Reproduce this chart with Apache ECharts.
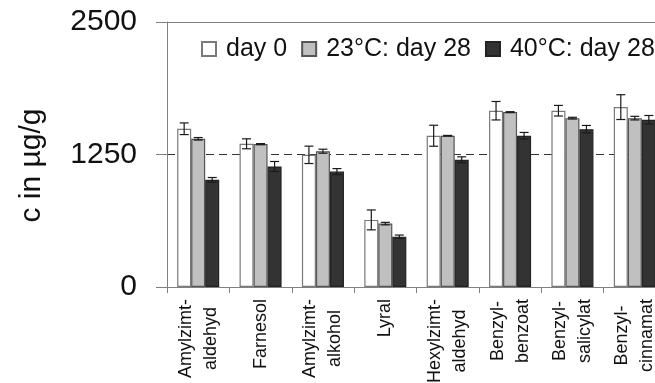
<!DOCTYPE html>
<html>
<head>
<meta charset="utf-8">
<script src="https://cdn.jsdelivr.net/npm/echarts@6/dist/echarts.min.js"></script>
<style>html,body{margin:0;padding:0;background:#fff;}#c{width:655px;height:383px;}</style>
</head>
<body>
<div id="c"></div>
<script>
const categories = ["Amylzimt-\naldehyd","Farnesol","Amylzimt-\nalkohol","Lyral","Hexylzimt-\naldehyd","Benzyl-\nbenzoat","Benzyl-\nsalicylat","Benzyl-\ncinnamat"];
const seriesNames = ["day 0","23°C: day 28","40°C: day 28"];
const day0 = [1493,1351,1247,633,1427,1663,1663,1697];
const err0 = [55,47,82,94,99,87,50,117];
const day28at23 = [1398,1348,1281,598,1427,1650,1593,1593];
const err23 = [12,5,19,12,3,4,8,17];
const day28at40 = [1011,1137,1089,475,1200,1427,1489,1578];
const err40 = [22,47,28,15,28,31,35,40];
const yTicks = [0,1250,2500];

const FONT = '"Liberation Sans", Arial, sans-serif';
const GAP = 0.326;

function errSeries(values, errs, idx) {
  return {
    type: 'custom', z: 10, silent: true,
    data: values.map((v, i) => [i, v, errs[i]]),
    encode: {x: 0, y: 1},
    renderItem: function (params, api) {
      const i = api.value(0), v = api.value(1), e = api.value(2);
      const band = api.size([1, 0])[0];
      const bw = band * (1 - GAP) / 3;
      const cx = api.coord([i, v])[0] + (idx - 1) * bw;
      const top = api.coord([i, v + e])[1];
      const bot = api.coord([i, v - e])[1];
      const hw = 4.5;
      const st = {stroke: '#1a1a1a', lineWidth: 1.2};
      return {type: 'group', children: [
        {type: 'line', shape: {x1: cx, y1: top, x2: cx, y2: bot}, style: st},
        {type: 'line', shape: {x1: cx - hw, y1: top, x2: cx + hw, y2: top}, style: st},
        {type: 'line', shape: {x1: cx - hw, y1: bot, x2: cx + hw, y2: bot}, style: st}
      ]};
    }
  };
}

const chart = echarts.init(document.getElementById('c'), null, {renderer: 'canvas'});
chart.setOption({
  animation: false,
  backgroundColor: '#fff',
  grid: {left: 167, top: 22, width: 499, height: 265, containLabel: false, outerBoundsMode: 'none'},
  legend: {
    data: seriesNames,
    left: 196, top: 31, width: 480,
    itemWidth: 14, itemHeight: 14, itemGap: 14,
    icon: 'rect',
    textStyle: {fontFamily: FONT, fontSize: 25, color: '#111', lineHeight: 26, padding: [0, 0, 0, 5]}
  },
  xAxis: [{
    type: 'category',
    data: categories,
    boundaryGap: true,
    axisLine: {lineStyle: {color: '#808080', width: 1}},
    axisTick: {show: true, length: 6, lineStyle: {color: '#808080'}},
    axisLabel: {
      rotate: 90, margin: 12, interval: 0,
      formatter: function (v) { return v.split('\n').map(s => '{c|' + s + '}').join('\n'); },
      rich: {c: {align: 'center', fontFamily: FONT, fontSize: 18, color: '#111', lineHeight: 25}}
    },
    splitLine: {show: false}
  }, {
    type: 'category',
    data: categories,
    position: 'top',
    axisLine: {show: true, lineStyle: {color: '#808080', width: 1}},
    axisTick: {show: false},
    axisLabel: {show: false}
  }],
  yAxis: {
    type: 'value',
    min: yTicks[0], max: yTicks[2], interval: yTicks[1],
    name: 'c in µg/g',
    nameLocation: 'middle',
    nameGap: 120,
    nameRotate: 90,
    nameTextStyle: {fontFamily: FONT, fontSize: 30, color: '#111', padding: [0, 22, 0, 0]},
    axisLine: {show: true, lineStyle: {color: '#808080', width: 1}},
    axisTick: {show: true, length: 11, lineStyle: {color: '#808080'}},
    axisLabel: {fontFamily: FONT, fontSize: 30, color: '#111', margin: 30, formatter: function (v) { return String(v); }},
    splitLine: {show: true, lineStyle: {color: '#333', type: [8, 5], width: 1}}
  },
  series: [
    {name: seriesNames[0], type: 'bar', data: day0, barGap: 0, barCategoryGap: (GAP * 100) + '%',
      itemStyle: {color: '#ffffff', borderColor: '#7a7a7a', borderWidth: 1.2}},
    {name: seriesNames[1], type: 'bar', data: day28at23, barGap: 0, barCategoryGap: (GAP * 100) + '%',
      itemStyle: {color: '#c0c0c0', borderColor: '#555', borderWidth: 1.2}},
    {name: seriesNames[2], type: 'bar', data: day28at40, barGap: 0, barCategoryGap: (GAP * 100) + '%',
      itemStyle: {color: '#333333', borderColor: '#222', borderWidth: 1.2}},
    errSeries(day0, err0, 0),
    errSeries(day28at23, err23, 1),
    errSeries(day28at40, err40, 2)
  ]
});
</script>
</body>
</html>
